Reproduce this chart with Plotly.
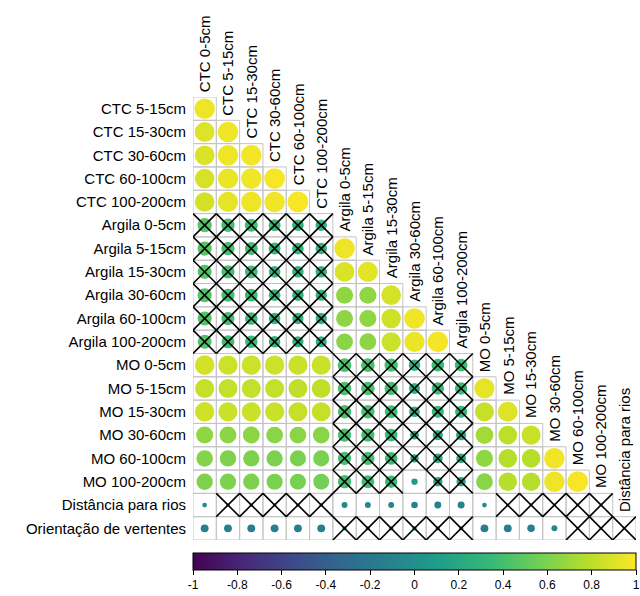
import numpy as np
import plotly.graph_objects as go

labels = ["CTC 0-5cm", "CTC 5-15cm", "CTC 15-30cm", "CTC 30-60cm", "CTC 60-100cm", "CTC 100-200cm",
          "Argila 0-5cm", "Argila 5-15cm", "Argila 15-30cm", "Argila 30-60cm", "Argila 60-100cm", "Argila 100-200cm",
          "MO 0-5cm", "MO 5-15cm", "MO 15-30cm", "MO 30-60cm", "MO 60-100cm", "MO 100-200cm",
          "Distância para rios", "Orientação de vertentes"]

# lower-triangle correlations, one list per row variable (columns = earlier variables)
ctc_5_15 = [0.95]
ctc_15_30 = [0.90, 0.96]
ctc_30_60 = [0.89, 0.95, 0.97]
ctc_60_100 = [0.88, 0.94, 0.96, 0.98]
ctc_100_200 = [0.87, 0.93, 0.95, 0.96, 0.98]
arg_0_5 = [0.46, 0.40, 0.38, 0.32, 0.31, 0.30]
arg_5_15 = [0.46, 0.40, 0.38, 0.32, 0.31, 0.30, 0.95]
arg_15_30 = [0.45, 0.40, 0.37, 0.31, 0.30, 0.30, 0.89, 0.92]
arg_30_60 = [0.45, 0.39, 0.37, 0.31, 0.30, 0.29, 0.66, 0.66, 0.88]
arg_60_100 = [0.45, 0.39, 0.36, 0.30, 0.29, 0.29, 0.65, 0.66, 0.86, 0.96]
arg_100_200 = [0.44, 0.38, 0.36, 0.30, 0.29, 0.28, 0.64, 0.65, 0.85, 0.94, 0.97]
mo_0_5 = [0.87, 0.85, 0.85, 0.85, 0.84, 0.84, 0.42, 0.42, 0.40, 0.30, 0.36, 0.36]
mo_5_15 = [0.83, 0.82, 0.82, 0.82, 0.81, 0.81, 0.42, 0.42, 0.40, 0.28, 0.35, 0.35, 0.93]
mo_15_30 = [0.86, 0.84, 0.84, 0.84, 0.83, 0.83, 0.41, 0.41, 0.38, 0.26, 0.34, 0.34, 0.83, 0.90]
mo_30_60 = [0.66, 0.65, 0.65, 0.64, 0.64, 0.64, 0.40, 0.40, 0.37, 0.18, 0.24, 0.24, 0.72, 0.80, 0.84]
mo_60_100 = [0.62, 0.61, 0.60, 0.60, 0.59, 0.59, 0.40, 0.40, 0.36, 0.16, 0.22, 0.22, 0.66, 0.78, 0.78, 0.96]
mo_100_200 = [0.61, 0.60, 0.60, 0.59, 0.58, 0.57, 0.40, 0.38, 0.35, 0.09, 0.20, 0.20, 0.64, 0.78, 0.78, 0.95, 0.98]
dist_rios = [-0.05, -0.03, -0.03, -0.03, -0.03, -0.03, -0.08, -0.08, -0.08, -0.10, -0.11, -0.11,
             -0.05, -0.02, -0.02, -0.02, -0.02, -0.02]
orient_vert = [-0.14, -0.14, -0.14, -0.14, -0.14, -0.14, -0.04, -0.04, -0.04, -0.04, -0.04, -0.04,
               -0.14, -0.14, -0.13, -0.08, -0.02, -0.02, -0.02]

# 1 = not significant (crossed)
sig_arg = [1, 1, 1, 1, 1, 1, 0, 0, 0, 0, 0]
sig_mo = [0, 0, 0, 0, 0, 0, 1, 1, 1, 1, 1, 1, 0, 0, 0, 0, 0]
sig_mo_100_200 = [0, 0, 0, 0, 0, 0, 1, 1, 1, 0, 1, 1, 0, 0, 0, 0, 0]
sig_dist = [0, 1, 1, 1, 1, 1, 0, 0, 0, 0, 0, 0, 0, 1, 1, 1, 1, 1]
sig_orient = [0, 0, 0, 0, 0, 0, 1, 1, 1, 1, 1, 1, 0, 0, 0, 0, 1, 1, 1]

colorbar_ticks = [-1, -0.8, -0.6, -0.4, -0.2, 0, 0.2, 0.4, 0.6, 0.8, 1]

corr_rows = [ctc_5_15, ctc_15_30, ctc_30_60, ctc_60_100, ctc_100_200,
             arg_0_5, arg_5_15, arg_15_30, arg_30_60, arg_60_100, arg_100_200,
             mo_0_5, mo_5_15, mo_15_30, mo_30_60, mo_60_100, mo_100_200,
             dist_rios, orient_vert]
sig_rows = []
for k, row in enumerate(corr_rows):
    n = len(row)
    if k < 5:
        sig_rows.append([0] * n)
    elif k < 11:
        sig_rows.append(sig_arg[:n])
    elif k < 16:
        sig_rows.append(sig_mo[:n])
    elif k == 16:
        sig_rows.append(sig_mo_100_200[:n])
    elif k == 17:
        sig_rows.append(sig_dist)
    else:
        sig_rows.append(sig_orient)

W, H = 640, 596
ml, mr, mt, mb = 193, 4, 97, 56
nrow = len(corr_rows)
cell_px = (W - ml - mr) / nrow
LABEL_SIZE = 15

xs, ys, cs, ss = [], [], [], []
bx, by = [], []
cx, cy = [], []
for r, row in enumerate(corr_rows):
    for c, v in enumerate(row):
        xs.append(c); ys.append(r); cs.append(v)
        ss.append(0.9 * np.sqrt(abs(v)) * cell_px)
        bx += [c - 0.5, c + 0.5, c + 0.5, c - 0.5, c - 0.5, None]
        by += [r - 0.5, r - 0.5, r + 0.5, r + 0.5, r - 0.5, None]
        if sig_rows[r][c]:
            cx += [c - 0.5, c + 0.5, None, c - 0.5, c + 0.5, None]
            cy += [r - 0.5, r + 0.5, None, r + 0.5, r - 0.5, None]

fig = go.Figure()
fig.add_trace(go.Scatter(x=bx, y=by, mode="lines", line=dict(color="#c4c4c4", width=1),
                         hoverinfo="skip", showlegend=False))
fig.add_trace(go.Scatter(
    x=xs, y=ys, mode="markers", showlegend=False,
    marker=dict(size=ss, color=cs, colorscale="Viridis", cmin=-1, cmax=1, opacity=1,
                line=dict(width=0), symbol="circle",
                showscale=True,
                colorbar=dict(orientation="h", x=0, xanchor="left", len=1, lenmode="fraction",
                              y=-0.029, yanchor="top", thickness=17, xpad=0, ypad=0,
                              outlinewidth=1, outlinecolor="black",
                              tickvals=colorbar_ticks,
                              ticktext=[("%g" % t) for t in colorbar_ticks],
                              ticks="outside", ticklen=5, tickcolor="black",
                              tickfont=dict(size=12, color="black")))))
fig.add_trace(go.Scatter(x=cx, y=cy, mode="lines", line=dict(color="black", width=1.6),
                         hoverinfo="skip", showlegend=False))

for j in range(nrow):
    fig.add_annotation(x=j, y=j - 0.5, text=labels[j], textangle=-90, showarrow=False,
                       xanchor="center", yanchor="bottom", yshift=3,
                       font=dict(size=LABEL_SIZE, color="black"))

fig.update_xaxes(range=[-0.5, nrow - 0.5], showgrid=False, zeroline=False, showticklabels=False,
                 showline=False, ticks="")
fig.update_yaxes(range=[nrow - 0.5, -0.5], showgrid=False, zeroline=False, showline=False,
                 tickvals=list(range(nrow)), ticktext=labels[1:], ticks="outside", ticklen=3,
                 tickcolor="rgba(0,0,0,0)", tickfont=dict(size=LABEL_SIZE, color="black"))
fig.update_layout(width=W, height=H, margin=dict(l=ml, r=mr, t=mt, b=mb, autoexpand=False),
                  plot_bgcolor="white", paper_bgcolor="white",
                  font=dict(family="Liberation Sans, Arial, sans-serif", color="black"))
fig.write_html("out.html", config={"displayModeBar": False},
               post_script="document.body.style.margin='0';document.body.style.overflow='hidden';")
